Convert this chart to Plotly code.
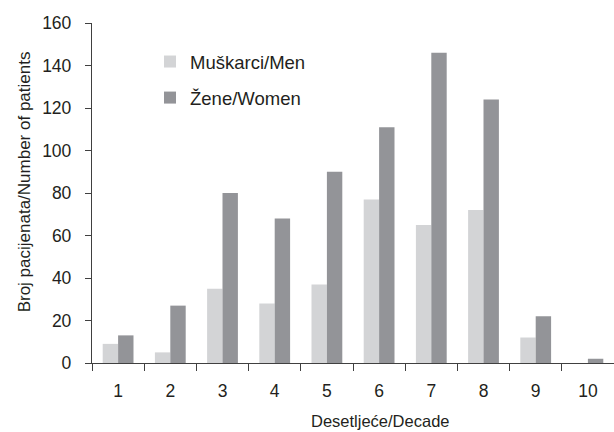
import plotly.graph_objects as go

decades = ["1", "2", "3", "4", "5", "6", "7", "8", "9", "10"]
men = [9, 5, 35, 28, 37, 77, 65, 72, 12, 0]
women = [13, 27, 80, 68, 90, 111, 146, 124, 22, 2]
y_ticks = [0, 20, 40, 60, 80, 100, 120, 140, 160]

FONT = "Liberation Sans, Arial, sans-serif"
TXT = "#231f20"
AX = "#404040"

fig = go.Figure()
fig.add_trace(go.Bar(x=decades, y=men, name="Muškarci/Men", legendgroup="m",
                     marker=dict(color="#d3d4d6", line=dict(width=0))))
fig.add_trace(go.Bar(x=decades, y=women, name="Žene/Women", legendgroup="w",
                     marker=dict(color="#939498", line=dict(width=0))))

fig.update_layout(
    width=614, height=432,
    margin=dict(l=92, r=0, t=23, b=69, autoexpand=False),
    paper_bgcolor="white", plot_bgcolor="white",
    barmode="group", bargap=0.41, bargroupgap=0,
    font=dict(family=FONT, size=17.5, color=TXT),
    showlegend=True,
    legend=dict(xref="container", yref="container", x=150/614, y=1-43/432,
                xanchor="left", yanchor="top", bgcolor="rgba(0,0,0,0)",
                font=dict(size=18.5, color=TXT), tracegroupgap=9,
                traceorder="grouped"),
    xaxis=dict(type="category", categoryorder="array", categoryarray=decades,
               range=[-0.5, 9.5], tickson="boundaries", ticks="outside",
               ticklen=7, tickwidth=1.3, tickcolor=AX, showline=True,
               linecolor=AX, linewidth=1.3, showgrid=False, zeroline=False,
               ticklabelstandoff=12),
    yaxis=dict(range=[0, 160], tickvals=y_ticks, ticks="outside", ticklen=6,
               tickwidth=1.3, tickcolor=AX, showline=True, linecolor=AX,
               linewidth=1.3, showgrid=False, zeroline=False,
               ticklabelstandoff=10),
    annotations=[
        dict(text="Broj pacijenata/Number of patients", xref="paper", yref="paper",
             x=(24 - 92) / 522, y=(363.3 - 182.5) / 340.3, textangle=-90,
             showarrow=False, xanchor="center", yanchor="middle",
             font=dict(size=17, color=TXT)),
        dict(text="Desetljeće/Decade", xref="paper", yref="paper",
             x=(380 - 92) / 522, y=(363.3 - 421) / 340.3, showarrow=False,
             xanchor="center", yanchor="middle",
             font=dict(size=16.5, color=TXT)),
    ],
)

fig.write_html("out.html", config={"displayModeBar": False},
               post_script="document.body.style.margin='0px';document.body.style.padding='0px';")
